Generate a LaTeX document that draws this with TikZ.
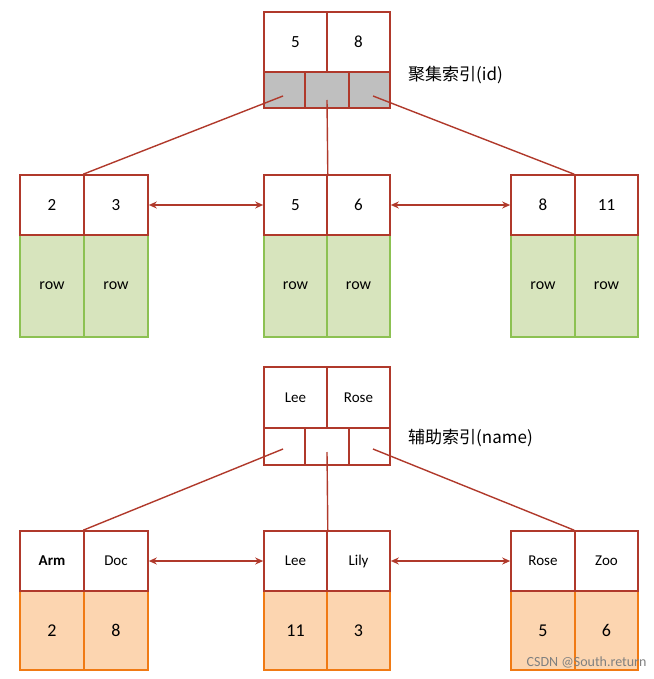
\documentclass[tikz,border=0pt]{standalone}
\usepackage{fontspec}
\setmainfont{Carlito}
\newfontfamily\cjk{Noto Sans CJK SC}
\usetikzlibrary{arrows.meta}
\definecolor{dred}{HTML}{B0392B}
\definecolor{gfill}{HTML}{D7E4BD}
\definecolor{gline}{HTML}{8CC152}
\definecolor{ofill}{HTML}{FCD5B0}
\definecolor{oline}{HTML}{F07A14}
\definecolor{grayf}{HTML}{BFBFBF}
\tikzset{
 cell/.style={draw=dred,line width=1.6pt,fill=white,inner sep=0pt,font=\fontsize{17}{17}\selectfont},
 scell/.style={cell,font=\fontsize{15}{15}\selectfont},
 gcell/.style={draw=gline,fill=gfill,line width=1.6pt,inner sep=0pt,font=\fontsize{16}{16}\selectfont},
 ocell/.style={draw=oline,fill=ofill,line width=1.6pt,inner sep=0pt,font=\fontsize{18}{18}\selectfont},
 link/.style={draw=dred,line width=1.4pt},
 dbl/.style={draw=dred,line width=1.4pt,{Stealth[length=8pt,width=7pt]}-{Stealth[length=8pt,width=7pt]}},
 lbl/.style={font=\cjk\fontsize{17}{17}\selectfont,inner sep=0pt}
}
\begin{document}
\begin{tikzpicture}[x=1pt,y=-1pt]
\useasboundingbox (0,0) rectangle (653,679);
% ---- tree 1
\node[cell,minimum width=63,minimum height=60] (ra) at (295.5,42) {5};
\node[cell,minimum width=63,minimum height=60] (rb) at (358.5,42) {8};
\node[cell,fill=grayf,minimum width=41,minimum height=36] (p1) at (284.5,90) {};
\node[cell,fill=grayf,minimum width=44,minimum height=36] (p2) at (327,90) {};
\node[cell,fill=grayf,minimum width=41,minimum height=36] (p3) at (369.5,90) {};
\node[lbl,anchor=west] (t1) at (408,75) {聚集索引(id)};
% leaves
\foreach \n/\x/\k/\w in {la/52/2/64,lb/116/3/64,ma/295.5/5/63,mb/358.5/6/63,na/543/8/64,nb/606.5/11/63}{
 \node[gcell,minimum width=\w,minimum height=102] (\n r) at (\x,286) {row};
 \node[cell,minimum width=\w,minimum height=60] (\n) at (\x,205) {\k};
}
\coordinate (c1) at (283,96);
\coordinate (c2) at (327,100);
\coordinate (c3) at (373,96);
\draw[link] (c1) -- (lb.north west);
\draw[link] (c2) -- (ma.north east);
\draw[link] (c3) -- (nb.north west);
\draw[dbl] (lb.east) -- (ma.west);
\draw[dbl] (mb.east) -- (na.west);
% ---- tree 2
\node[scell,minimum width=63,minimum height=61] (sa) at (295.5,397.5) {Lee};
\node[scell,minimum width=63,minimum height=61] (sb) at (358.5,397.5) {Rose};
\node[cell,minimum width=41,minimum height=37] (q1) at (284.5,446.5) {};
\node[cell,minimum width=44,minimum height=37] (q2) at (327,446.5) {};
\node[cell,minimum width=41,minimum height=37] (q3) at (369.5,446.5) {};
\node[lbl,anchor=west] (t2) at (408,438) {辅助索引(name)};
\foreach \n/\x/\k/\v/\w in {ua/52/{\textbf{Arm}}/2/64,ub/116/Doc/8/64,va/295.5/Lee/11/63,vb/358.5/Lily/3/63,wa/543/Rose/5/64,wb/606.5/Zoo/6/63}{
 \node[ocell,minimum width=\w,minimum height=79] (\n r) at (\x,630.5) {\v};
 \node[scell,minimum width=\w,minimum height=60] (\n) at (\x,561) {\k};
}
\coordinate (d1) at (283,449);
\coordinate (d2) at (327,452);
\coordinate (d3) at (373,449);
\draw[link] (d1) -- (ub.north west);
\draw[link] (d2) -- (va.north east);
\draw[link] (d3) -- (wb.north west);
\draw[dbl] (ub.east) -- (va.west);
\draw[dbl] (vb.east) -- (wa.west);
\node[anchor=east,text=gray,font=\fontsize{14}{14}\selectfont] (wm) at (650,662) {CSDN @South.return};
\end{tikzpicture}
\end{document}
